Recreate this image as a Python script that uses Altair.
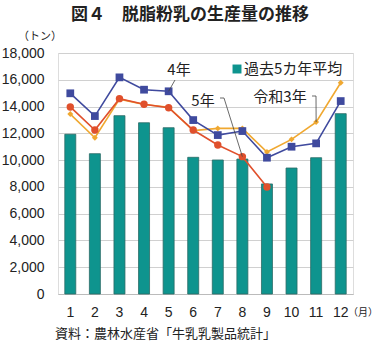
import altair as alt
import pandas as pd

months = [1, 2, 3, 4, 5, 6, 7, 8, 9, 10, 11, 12]
avg5 = [11930, 10480, 13320, 12790, 12420, 10210, 10010, 10080, 8220, 9410, 10180, 13470]
y4 = [14990, 13290, 16180, 15260, 15140, 12990, 11870, 12170, 10180, 11000, 11250, 14410]
y5 = [13970, 12250, 14590, 14170, 13910, 12250, 11130, 10260, 7990]
r3 = [13440, 11670, 14550, 14150, 13950, 12200, 12370, 12370, 10600, 11550, 12840, 15780]
yticks = [0, 2000, 4000, 6000, 8000, 10000, 12000, 14000, 16000, 18000]

FONT = "Noto Sans CJK JP"
NUMFONT = "Liberation Sans"

bar_df = pd.DataFrame({"month": months, "value": avg5})
rows = []
for m, v in zip(months, r3):
    rows.append({"month": m, "value": v, "series": "令和3年"})
for m, v in zip(months[:len(y5)], y5):
    rows.append({"month": m, "value": v, "series": "5年"})
for m, v in zip(months, y4):
    rows.append({"month": m, "value": v, "series": "4年"})
line_df = pd.DataFrame(rows)

x_scale = alt.Scale(paddingInner=0, paddingOuter=0)
y_scale = alt.Scale(domain=[0, 18000], nice=False)
x_axis = alt.Axis(labelAngle=0, tickSize=0, labelPadding=11, labelFontSize=14,
                  labelFont=NUMFONT, labelColor="#222", domainColor="#bbbbbb", grid=False)
y_axis = alt.Axis(values=yticks, labelExpr="format(datum.value, ',.0f')", tickSize=0,
                  labelPadding=14, labelFontSize=14,
                  labelFont=NUMFONT, labelColor="#222", domain=False,
                  gridColor="#d0d0d0", gridWidth=1)
x_enc = alt.X("month:O", title=None, scale=x_scale, axis=x_axis)
y_enc = alt.Y("value:Q", title=None, scale=y_scale, axis=y_axis)

bars = alt.Chart(bar_df).mark_bar(size=11, color="#0E948E", stroke="#2B6B66", strokeWidth=0.8).encode(
    x=x_enc, y=y_enc)

def series_layer(name, color, shape, size, sw=1.6):
    d = line_df[line_df.series == name]
    base = alt.Chart(d).encode(x=x_enc, y=y_enc)
    ln = base.mark_line(color=color, strokeWidth=sw)
    pt = base.mark_point(shape=shape, filled=True, color=color, size=size, opacity=1)
    return ln + pt

orange = series_layer("令和3年", "#F0A830", "diamond", 35)
red = series_layer("5年", "#E0502C", "circle", 55)
blue = series_layer("4年", "#3F4A9E", "square", 60)

def txt(s, x, y, size=14, align="center", weight="normal", font=FONT, color="#222"):
    return alt.Chart(pd.DataFrame({"t": [s]})).mark_text(
        align=align, baseline="middle", fontSize=size, fontWeight=weight, font=font, color=color
    ).encode(x=alt.value(x), y=alt.value(y), text="t:N")

def pix_rule(x1, y1, x2, y2):
    return alt.Chart(pd.DataFrame({"a": [0]})).mark_rule(color="#444", strokeWidth=0.8).encode(
        x=alt.value(x1), y=alt.value(y1), x2=alt.value(x2), y2=alt.value(y2))

def anchor_rule(month, value, x2, y2):
    return alt.Chart(pd.DataFrame({"month": [month], "value": [value]})).mark_rule(
        color="#444", strokeWidth=0.8).encode(
        x=x_enc, y=y_enc, x2=alt.value(x2), y2=alt.value(y2))

annots = [
    txt("図４　脱脂粉乳の生産量の推移", 132, -38, size=17, weight="bold"),
    txt("（トン）", -18, -16, size=11),
    txt("（月）", 320, 260, size=10, align="right"),
    txt("資料：農林水産省「牛乳乳製品統計」", -3, 281, size=13, align="left"),
    txt("4年", 121, 17, size=15),
    txt("5年", 145, 48, size=15),
    txt("令和3年", 222, 44, size=15),
    txt("過去5カ年平均", 186, 16, size=15, align="left"),
    alt.Chart(pd.DataFrame({"a": [0]})).mark_square(size=80, color="#0E948E", opacity=1).encode(
        x=alt.value(179), y=alt.value(16)),
    anchor_rule(5, y4[4], 117, 27),
    pix_rule(162, 45, 166, 45),
    anchor_rule(8, y5[7], 166, 45),
    pix_rule(254, 43, 258, 43),
    anchor_rule(11, r3[10], 258, 43),
]

chart = alt.layer(bars, orange, red, blue, *annots).properties(
    width=295, height=241,
    autosize=alt.AutoSizeParams(type="none"),
    padding={"left": 58, "top": 53, "right": 27, "bottom": 53},
).configure_view(stroke="#bbbbbb", strokeWidth=1).configure(background="white")

chart.save("out.html", embed_options={"renderer": "svg", "actions": False})
